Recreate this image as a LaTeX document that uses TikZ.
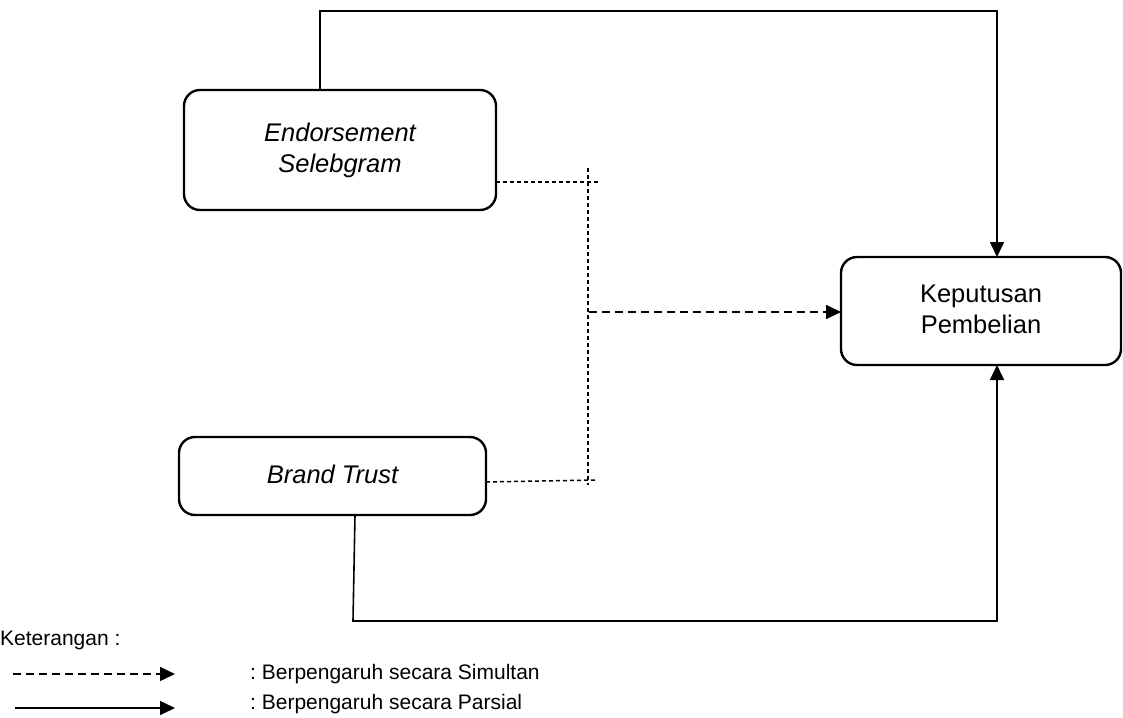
\documentclass[tikz,border=0pt]{standalone}
\usepackage{fontspec}
\setmainfont{Liberation Sans}
\usetikzlibrary{arrows.meta}
\frenchspacing
\begin{document}
\begin{tikzpicture}[x=1pt,y=-1pt,
  varbox/.style={draw, line width=2.4pt, rounded corners=16pt},
  boxtext/.style={align=center, font=\fontsize{25.5}{31}\selectfont},
  conn/.style={line width=1.6pt},
  tip/.style={-{Triangle[length=15pt,width=14pt]}},
  finedash/.style={line width=1.5pt, dash pattern=on 4pt off 3pt},
  bigdash/.style={line width=2pt, dash pattern=on 8pt off 5pt},
  legtext/.style={anchor=base west, inner sep=0pt, font=\fontsize{21}{25}\selectfont}]
\useasboundingbox (0,0) rectangle (1123,717);
% boxes
\draw[varbox] (184,90) rectangle (496,210);
\node[boxtext] (endo) at (340,150) {\itshape Endorsement\\\itshape Selebgram};
\coordinate (endoN) at (320,90);
\coordinate (endoE) at (496,182);
\draw[varbox] (179,437) rectangle (486,515);
\node[boxtext] (brand) at (332.5,474) {\itshape Brand Trust};
\coordinate (brandS) at (355,515);
\coordinate (brandE) at (486,482);
\draw[varbox] (841,257) rectangle (1121,365);
\node[boxtext] (kep) at (981,309) {Keputusan\\Pembelian};
\coordinate (kepN) at (997,257);
\coordinate (kepS) at (997,365);
\coordinate (kepW) at (841,312);
% partial connectors
\coordinate (t1) at (320,11);
\coordinate (t2) at (997,11);
\draw[conn,tip] (endoN) -- (t1) -- (t2) -- (kepN);
\coordinate (b1) at (353,621);
\coordinate (b2) at (997,621);
\draw[conn,tip] (brandS) -- (b1) -- (b2) -- (kepS);
% simultaneous
\coordinate (d1) at (599,182);
\coordinate (d2) at (595,480);
\coordinate (vtop) at (588,168);
\coordinate (vbot) at (588,485);
\coordinate (vmid) at (589,312);
\draw[finedash] (endoE) -- (d1);
\draw[finedash] (brandE) -- (d2);
\draw[finedash] (vtop) -- (vbot);
\draw[bigdash,tip] (vmid) -- (kepW);
% legend
\node[legtext] (ket) at (0,645) {Keterangan :};
\coordinate (l1a) at (13,674);
\coordinate (l1b) at (175,674);
\coordinate (l2a) at (15,708);
\coordinate (l2b) at (175,708);
\draw[bigdash,line width=1.5pt,tip] (l1a) -- (l1b);
\draw[conn,tip] (l2a) -- (l2b);
\node[legtext] (sim) at (250,679) {: Berpengaruh secara Simultan};
\node[legtext] (par) at (250,709) {: Berpengaruh secara Parsial};
\end{tikzpicture}
\end{document}
